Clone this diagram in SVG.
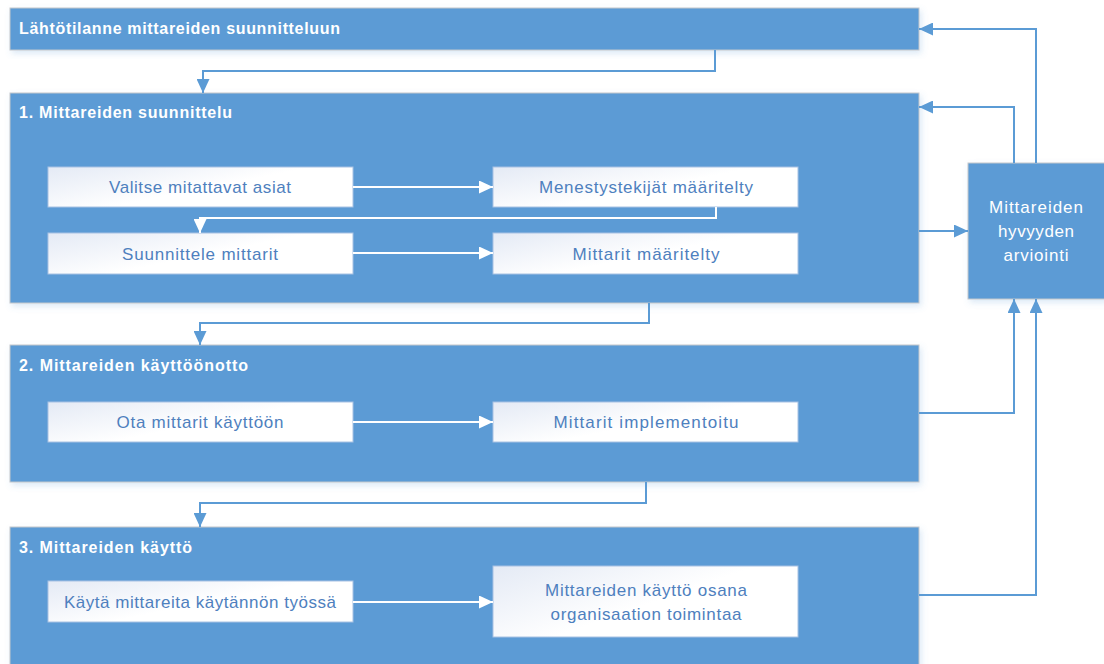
<svg xmlns="http://www.w3.org/2000/svg" width="1104" height="664" viewBox="0 0 1104 664">
  <defs>
    <linearGradient id="inner" x1="0" y1="0" x2="0.6" y2="0.4">
      <stop offset="0" stop-color="#E4EAF5"/>
      <stop offset="1" stop-color="#FFFFFF"/>
    </linearGradient>
    <filter id="shadow" x="-5%" y="-10%" width="110%" height="130%">
      <feDropShadow dx="2" dy="3" stdDeviation="3" flood-color="#5B9BD5" flood-opacity="0.22"/>
    </filter>
    <marker id="arrB" markerUnits="userSpaceOnUse" markerWidth="14" markerHeight="13" viewBox="0 0 14 13" refX="14" refY="6.5" orient="auto">
      <path d="M0,0 L14,6.5 L0,13 Z" fill="#5B9BD5"/>
    </marker>
    <marker id="arrW" markerUnits="userSpaceOnUse" markerWidth="14" markerHeight="13" viewBox="0 0 14 13" refX="14" refY="6.5" orient="auto">
      <path d="M0,0 L14,6.5 L0,13 Z" fill="#FFFFFF"/>
    </marker>
  </defs>
  <style>
    .phase { fill: #5B9BD5; stroke: #C3C7CC; stroke-width: 1; filter: url(#shadow); }
    .inner { fill: url(#inner); stroke: #A7C2E3; stroke-width: 1; }
    .title { font-family: "Liberation Sans", Arial, sans-serif; font-weight: bold; font-size: 16px; fill: #FFFFFF; }
    .itext { font-family: "Liberation Sans", Arial, sans-serif; font-size: 17px; fill: #4E80BE; text-anchor: middle; }
    .etext { font-family: "Liberation Sans", Arial, sans-serif; font-size: 17px; fill: #FFFFFF; text-anchor: middle; }
    .cb { fill: none; stroke: #5B9BD5; stroke-width: 2; marker-end: url(#arrB); }
    .cw { fill: none; stroke: #FFFFFF; stroke-width: 2; marker-end: url(#arrW); }
  </style>
  <rect width="1104" height="664" fill="#FFFFFF"/>

  <g id="start">
    <rect class="phase" x="10" y="8" width="909" height="42"/>
    <text class="title" x="19" y="34" textLength="321" lengthAdjust="spacing">Lähtötilanne mittareiden suunnitteluun</text>
  </g>

  <g id="phase1">
    <rect class="phase" x="10" y="93" width="909" height="210"/>
    <text class="title" x="19" y="118" textLength="213" lengthAdjust="spacing">1. Mittareiden suunnittelu</text>
  </g>

  <g id="phase2">
    <rect class="phase" x="10" y="345" width="909" height="137"/>
    <text class="title" x="19" y="371" textLength="229" lengthAdjust="spacing">2. Mittareiden käyttöönotto</text>
  </g>

  <g id="phase3">
    <rect class="phase" x="10" y="527" width="909" height="150"/>
    <text class="title" x="19" y="553" textLength="173" lengthAdjust="spacing">3. Mittareiden käyttö</text>
  </g>

  <g id="evaluation">
    <rect class="phase" x="968" y="163" width="140" height="136"/>
    <text class="etext" x="1036" y="213" textLength="94" lengthAdjust="spacing">Mittareiden</text>
    <text class="etext" x="1036" y="237" textLength="76" lengthAdjust="spacing">hyvyyden</text>
    <text class="etext" x="1036" y="261" textLength="65" lengthAdjust="spacing">arviointi</text>
  </g>

  <g id="valitse">
    <rect class="inner" x="48" y="167" width="305" height="40"/>
    <text class="itext" x="200" y="193" textLength="182" lengthAdjust="spacing">Valitse mitattavat asiat</text>
  </g>
  <g id="menestys">
    <rect class="inner" x="493" y="167" width="305" height="40"/>
    <text class="itext" x="646" y="193" textLength="214" lengthAdjust="spacing">Menestystekijät määritelty</text>
  </g>
  <g id="suunnittele">
    <rect class="inner" x="48" y="233" width="305" height="41"/>
    <text class="itext" x="200" y="260" textLength="156" lengthAdjust="spacing">Suunnittele mittarit</text>
  </g>
  <g id="maaritelty">
    <rect class="inner" x="493" y="233" width="305" height="41"/>
    <text class="itext" x="646" y="260" textLength="147" lengthAdjust="spacing">Mittarit määritelty</text>
  </g>
  <g id="ota">
    <rect class="inner" x="48" y="402" width="305" height="40"/>
    <text class="itext" x="200" y="428" textLength="167" lengthAdjust="spacing">Ota mittarit käyttöön</text>
  </g>
  <g id="implementoitu">
    <rect class="inner" x="493" y="402" width="305" height="40"/>
    <text class="itext" x="646" y="428" textLength="185" lengthAdjust="spacing">Mittarit implementoitu</text>
  </g>
  <g id="kayta">
    <rect class="inner" x="48" y="581" width="305" height="41"/>
    <text class="itext" x="200" y="608" textLength="272" lengthAdjust="spacing">Käytä mittareita käytännön työssä</text>
  </g>
  <g id="osana">
    <rect class="inner" x="493" y="566" width="305" height="71"/>
    <text class="itext" x="646" y="596" textLength="202" lengthAdjust="spacing">Mittareiden käyttö osana</text>
    <text class="itext" x="646" y="620" textLength="191" lengthAdjust="spacing">organisaation toimintaa</text>
  </g>

  <g id="connectors">
    <path class="cb" d="M715,50 V71 H203 V93"/>
    <path class="cw" d="M353,187 H493"/>
    <path class="cw" d="M716,207 V218 H200 V233"/>
    <path class="cw" d="M353,253 H493"/>
    <path class="cb" d="M649,303 V323 H200 V345"/>
    <path class="cb" d="M919,231 H968"/>
    <path class="cb" d="M1014,163 V107 H919"/>
    <path class="cb" d="M1036,163 V29 H919"/>
    <path class="cw" d="M353,422 H493"/>
    <path class="cb" d="M646,482 V503 H200 V527"/>
    <path class="cb" d="M919,413 H1014 V299"/>
    <path class="cw" d="M353,602 H493"/>
    <path class="cb" d="M919,595 H1036 V299"/>
  </g>
</svg>
